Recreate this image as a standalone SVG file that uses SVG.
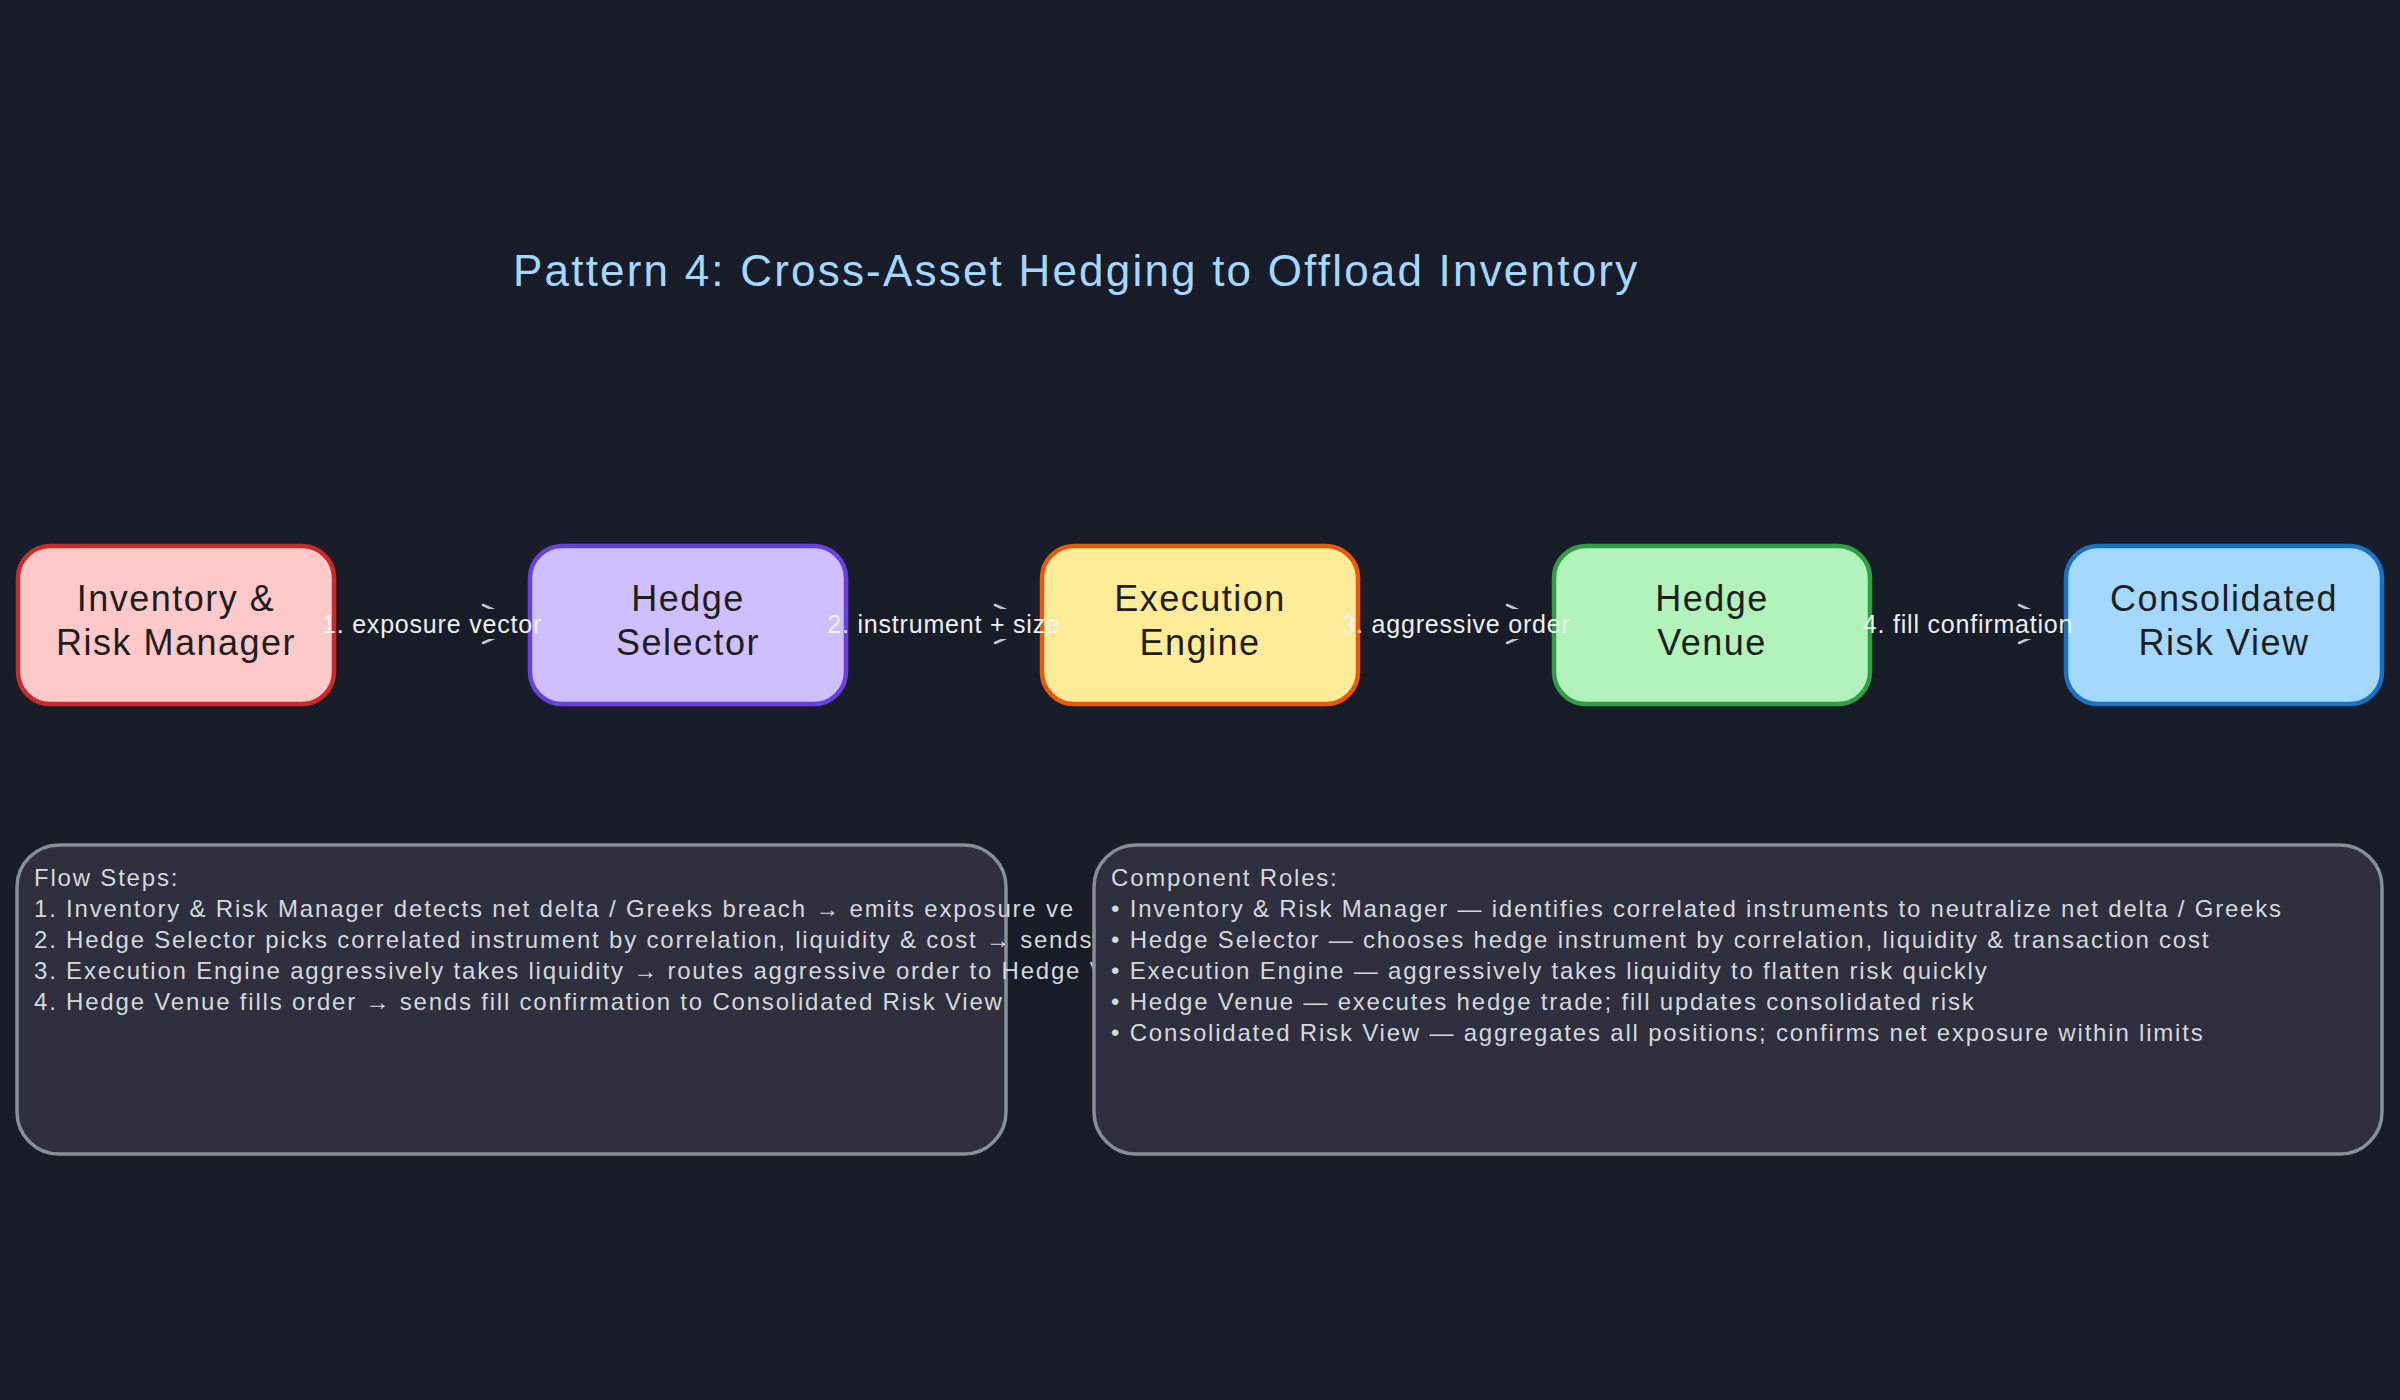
<svg xmlns="http://www.w3.org/2000/svg" width="2400" height="1400" viewBox="0 0 2400 1400">
<defs>
<style>
.bg{fill:#181b28}
.node rect{stroke-width:4.5;stroke-linejoin:round}
.nlabel{font-family:"Liberation Sans",Arial,sans-serif;font-size:36px;letter-spacing:1.5px;fill:#1e1e1e;text-anchor:middle}
.title{font-family:"Liberation Sans",Arial,sans-serif;font-size:44px;letter-spacing:2.2px;fill:#a5d8ff}
.elabel{font-family:"Liberation Sans",Arial,sans-serif;font-size:25px;letter-spacing:0.8px;fill:#eef0f3;text-anchor:middle}
.edge{stroke:#c3c8cf;stroke-width:2.5;fill:none;stroke-linecap:round;stroke-linejoin:round}
.mask{fill:#181b28}
.note rect{fill:#2e2e3e;stroke:#868e96;stroke-width:3.5}
.ntext{font-family:"Liberation Sans",Arial,sans-serif;font-size:24px;letter-spacing:1.8px;fill:#d4d8dd}
</style>
<clipPath id="leftclip"><rect x="0" y="840" width="1094" height="320"/></clipPath>
</defs>
<rect class="bg" x="0" y="0" width="2400" height="1400"/>

<text class="title" x="513" y="286">Pattern 4: Cross-Asset Hedging to Offload Inventory</text>

<g id="connectors">
  <g id="edge1">
    <path class="edge" d="M338 624 L526 624 M483 605 L526 624 L483 643"/>
    <rect class="mask" x="336" y="609" width="192" height="30"/>
  </g>
  <g id="edge2">
    <path class="edge" d="M850 624 L1038 624 M995 605 L1038 624 L995 643"/>
    <rect class="mask" x="848" y="609" width="192" height="30"/>
  </g>
  <g id="edge3">
    <path class="edge" d="M1362 624 L1550 624 M1507 605 L1550 624 L1507 643"/>
    <rect class="mask" x="1360" y="609" width="192" height="30"/>
  </g>
  <g id="edge4">
    <path class="edge" d="M1874 624 L2062 624 M2019 605 L2062 624 L2019 643"/>
    <rect class="mask" x="1872" y="609" width="192" height="30"/>
  </g>
</g>

<g id="node-inventory" class="node">
  <rect x="18" y="546" width="316" height="158" rx="32" fill="#ffc9c9" stroke="#c92a2a"/>
  <text class="nlabel" x="176" y="611">Inventory &amp;</text>
  <text class="nlabel" x="176" y="655">Risk Manager</text>
</g>
<g id="node-selector" class="node">
  <rect x="530" y="546" width="316" height="158" rx="32" fill="#d0bfff" stroke="#6741d9"/>
  <text class="nlabel" x="688" y="611">Hedge</text>
  <text class="nlabel" x="688" y="655">Selector</text>
</g>
<g id="node-execution" class="node">
  <rect x="1042" y="546" width="316" height="158" rx="32" fill="#ffec99" stroke="#e8590c"/>
  <text class="nlabel" x="1200" y="611">Execution</text>
  <text class="nlabel" x="1200" y="655">Engine</text>
</g>
<g id="node-venue" class="node">
  <rect x="1554" y="546" width="316" height="158" rx="32" fill="#b2f2bb" stroke="#2f9e44"/>
  <text class="nlabel" x="1712" y="611">Hedge</text>
  <text class="nlabel" x="1712" y="655">Venue</text>
</g>
<g id="node-risk-view" class="node">
  <rect x="2066" y="546" width="316" height="158" rx="32" fill="#a5d8ff" stroke="#1971c2"/>
  <text class="nlabel" x="2224" y="611">Consolidated</text>
  <text class="nlabel" x="2224" y="655">Risk View</text>
</g>

<g id="edge-labels">
  <text class="elabel" x="432" y="633">1. exposure vector</text>
  <text class="elabel" x="944" y="633">2. instrument + size</text>
  <text class="elabel" x="1456" y="633">3. aggressive order</text>
  <text class="elabel" x="1968" y="633">4. fill confirmation</text>
</g>

<g id="note-flow" class="note">
  <rect x="17" y="845" width="989" height="309" rx="42"/>
  <g clip-path="url(#leftclip)">
    <text class="ntext" x="34" y="886">Flow Steps:</text>
    <text class="ntext" x="34" y="917">1. Inventory &amp; Risk Manager detects net delta / Greeks breach → emits exposure ve</text>
    <text class="ntext" x="34" y="948">2. Hedge Selector picks correlated instrument by correlation, liquidity &amp; cost → sends</text>
    <text class="ntext" x="34" y="979">3. Execution Engine aggressively takes liquidity → routes aggressive order to Hedge V</text>
    <text class="ntext" x="34" y="1010">4. Hedge Venue fills order → sends fill confirmation to Consolidated Risk View</text>
  </g>
</g>

<g id="note-roles" class="note">
  <rect x="1094" y="845" width="1288" height="309" rx="42"/>
  <text class="ntext" x="1111" y="886">Component Roles:</text>
  <text class="ntext" x="1111" y="917">• Inventory &amp; Risk Manager — identifies correlated instruments to neutralize net delta / Greeks</text>
  <text class="ntext" x="1111" y="948">• Hedge Selector — chooses hedge instrument by correlation, liquidity &amp; transaction cost</text>
  <text class="ntext" x="1111" y="979">• Execution Engine — aggressively takes liquidity to flatten risk quickly</text>
  <text class="ntext" x="1111" y="1010">• Hedge Venue — executes hedge trade; fill updates consolidated risk</text>
  <text class="ntext" x="1111" y="1041">• Consolidated Risk View — aggregates all positions; confirms net exposure within limits</text>
</g>
</svg>
